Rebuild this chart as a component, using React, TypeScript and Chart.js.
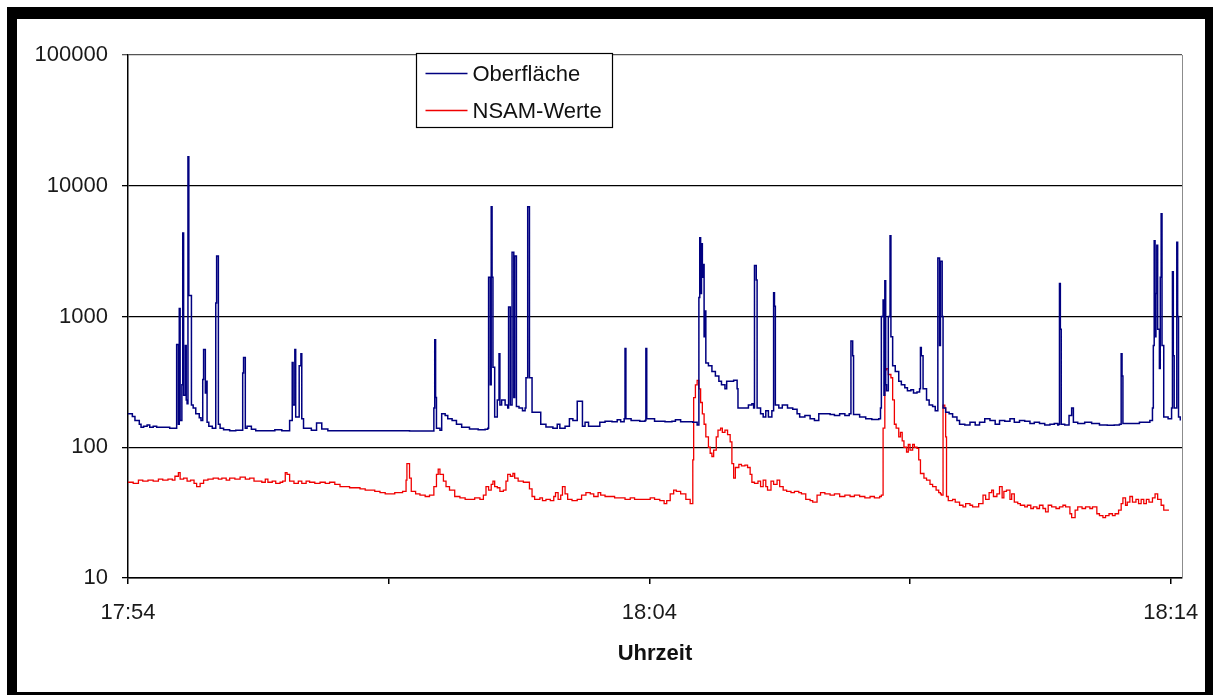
import React, { useEffect, useRef } from "react";
import { Chart, registerables } from "chart.js";

Chart.register(...registerables);

// x axis: seconds after 17:54:00
const xTickSeconds = [0, 300, 600, 900, 1200];
const xTickLabels = ["17:54", "", "18:04", "", "18:14"];
const yTickValues = [10, 100, 1000, 10000, 100000];

// [seconds after 17:54:00, value]
const oberflaeche: [number, number][] = [
  [0, 180], [5, 172], [8, 160], [13, 150], [15, 142], [18, 145], [22, 148], [25, 142], [29, 145], [33, 142],
  [40, 142], [48, 140], [55, 140], [56, 610], [58, 150], [59, 1150], [60, 160], [62, 300], [63, 4360], [64, 250],
  [66, 600], [67, 230], [68, 215], [69, 16700], [70, 1450], [71, 1450], [73, 210], [75, 200], [78, 180], [82, 168],
  [84, 160], [86, 330], [87, 560], [89, 260], [90, 320], [91, 155], [93, 145], [97, 140], [100, 140], [101, 1270],
  [102, 2900], [104, 150], [106, 140], [110, 136], [117, 134], [124, 135], [131, 135], [132, 370], [133, 485],
  [135, 140], [137, 145], [142, 137], [147, 134], [158, 134], [169, 136], [177, 134], [186, 160], [188, 160],
  [189, 445], [190, 210], [192, 560], [193, 170], [196, 170], [197, 420], [199, 520], [200, 165], [202, 140],
  [211, 135], [216, 135], [217, 153], [221, 153], [223, 138], [230, 134], [250, 134], [273, 134], [301, 134],
  [324, 133], [351, 133], [352, 200], [353, 665], [354, 240], [355, 140], [359, 135], [361, 180], [365, 175],
  [368, 165], [373, 160], [378, 150], [384, 142], [393, 138], [403, 136], [411, 137], [414, 140], [415, 2000],
  [417, 300], [418, 6900], [419, 2000], [420, 410], [422, 170], [425, 230], [427, 520], [428, 210], [430, 230],
  [434, 210], [437, 200], [438, 1180], [440, 210], [441, 210], [442, 3100], [444, 240], [445, 2900], [447, 205],
  [450, 200], [454, 190], [457, 200], [458, 340], [460, 6900], [462, 340], [465, 185], [472, 185], [475, 150],
  [481, 143], [489, 140], [494, 150], [497, 140], [503, 145], [508, 165], [512, 160], [516, 160], [517, 225],
  [522, 225], [523, 145], [526, 155], [530, 145], [536, 145], [543, 155], [549, 158], [557, 157], [563, 162],
  [567, 157], [571, 165], [572, 570], [573, 165], [579, 160], [589, 158], [595, 160], [596, 570], [597, 165],
  [606, 158], [618, 157], [626, 158], [630, 162], [636, 157], [650, 155], [655, 148], [656, 148], [657, 1400],
  [658, 4000], [659, 1500], [660, 3600], [661, 2000], [662, 2500], [663, 700], [664, 1100], [665, 440], [668, 420],
  [672, 380], [676, 350], [680, 320], [683, 300], [687, 280], [689, 320], [693, 320], [697, 325], [701, 280],
  [702, 200], [705, 200], [709, 200], [714, 210], [718, 215], [720, 200], [721, 2450], [723, 1900], [724, 200],
  [728, 180], [731, 170], [734, 190], [737, 170], [741, 190], [742, 190], [743, 1520], [744, 1200], [745, 210],
  [749, 200], [753, 210], [759, 200], [765, 195], [770, 180], [773, 170], [779, 175], [785, 165], [790, 160],
  [795, 180], [802, 180], [808, 178], [813, 175], [819, 180], [825, 175], [830, 180], [831, 180], [832, 650],
  [834, 500], [835, 178], [842, 170], [849, 165], [856, 163], [864, 165], [866, 200], [867, 1000], [869, 1340],
  [870, 250], [871, 1880], [872, 300], [873, 270], [875, 1000], [877, 4150], [878, 700], [880, 420], [883, 380],
  [887, 320], [890, 300], [894, 285], [897, 270], [901, 275], [904, 260], [908, 265], [911, 280], [912, 580],
  [913, 500], [915, 280], [919, 230], [922, 210], [926, 205], [929, 190], [931, 190], [932, 2800], [934, 600],
  [935, 2650], [937, 1000], [938, 200], [941, 185], [945, 180], [949, 170], [954, 160], [957, 150], [963, 148],
  [969, 155], [975, 148], [980, 155], [986, 165], [992, 160], [998, 150], [1003, 160], [1009, 158], [1015, 165],
  [1020, 155], [1026, 160], [1032, 158], [1038, 152], [1043, 155], [1049, 152], [1055, 148], [1061, 150],
  [1066, 152], [1070, 148], [1071, 150], [1072, 1790], [1073, 800], [1074, 150], [1078, 148], [1083, 175],
  [1086, 200], [1088, 155], [1093, 152], [1101, 155], [1109, 152], [1118, 148], [1127, 147], [1135, 148],
  [1141, 150], [1142, 150], [1143, 520], [1144, 350], [1145, 152], [1152, 152], [1164, 155], [1176, 160],
  [1178, 160], [1179, 200], [1180, 600], [1181, 3800], [1182, 700], [1183, 1500], [1184, 3500], [1185, 800],
  [1187, 400], [1188, 2000], [1189, 6100], [1190, 600], [1192, 170], [1197, 165], [1201, 200], [1202, 2200],
  [1203, 500], [1204, 200], [1206, 200], [1207, 3700], [1208, 1000], [1209, 170], [1211, 160],
];

const nsamWerte: [number, number][] = [
  [0, 54], [6, 53], [12, 56], [17, 55], [23, 56], [29, 55], [35, 57], [40, 56], [46, 57], [51, 56], [54, 60],
  [58, 64], [60, 57], [64, 58], [68, 55], [72, 56], [76, 53], [79, 50], [83, 53], [87, 56], [92, 57], [98, 58],
  [104, 57], [108, 58], [113, 56], [117, 58], [123, 57], [129, 59], [135, 57], [140, 58], [145, 55], [150, 55],
  [154, 54], [158, 57], [161, 54], [166, 55], [170, 53], [175, 54], [178, 55], [181, 64], [183, 62], [186, 55],
  [191, 53], [196, 55], [200, 53], [205, 55], [209, 54], [215, 53], [221, 54], [227, 53], [232, 54], [238, 52],
  [244, 50], [250, 50], [255, 49], [261, 49], [267, 48], [273, 47], [278, 47], [284, 46], [290, 45], [296, 44],
  [301, 44], [307, 45], [313, 45], [316, 46], [320, 56], [321, 75], [324, 58], [326, 46], [331, 44], [336, 43],
  [342, 42], [347, 43], [352, 50], [355, 62], [357, 68], [359, 62], [363, 55], [366, 50], [370, 47], [376, 42],
  [382, 41], [388, 40], [393, 40], [399, 41], [405, 40], [409, 43], [412, 50], [415, 47], [418, 52], [420, 55],
  [422, 50], [425, 49], [428, 46], [432, 47], [435, 55], [437, 62], [440, 60], [443, 63], [445, 58], [449, 55],
  [452, 55], [455, 54], [459, 54], [462, 48], [465, 42], [468, 40], [474, 41], [477, 39], [481, 40], [486, 39],
  [490, 42], [492, 45], [495, 40], [498, 43], [500, 50], [503, 44], [506, 40], [511, 39], [517, 40], [522, 43],
  [527, 45], [532, 44], [536, 42], [541, 45], [544, 43], [549, 42], [555, 42], [560, 41], [566, 41], [572, 40],
  [578, 41], [583, 40], [589, 40], [595, 40], [601, 41], [606, 40], [612, 39], [617, 37], [620, 39], [624, 44],
  [628, 47], [631, 46], [636, 44], [642, 40], [647, 37], [649, 37], [650, 80], [651, 240], [653, 300], [655, 325],
  [657, 280], [659, 220], [661, 180], [663, 150], [665, 120], [668, 100], [670, 90], [672, 85], [674, 95],
  [677, 120], [679, 135], [682, 140], [684, 130], [687, 135], [690, 125], [693, 110], [695, 75], [697, 58],
  [699, 70], [703, 74], [706, 72], [710, 73], [713, 70], [716, 62], [718, 54], [721, 53], [725, 55], [728, 50],
  [731, 56], [734, 50], [736, 47], [740, 55], [743, 52], [747, 56], [750, 50], [754, 47], [758, 46], [763, 45],
  [767, 46], [772, 45], [775, 44], [780, 40], [785, 39], [788, 38], [793, 43], [797, 45], [802, 44], [808, 43],
  [813, 44], [819, 42], [825, 43], [831, 42], [836, 43], [842, 42], [848, 41], [854, 42], [859, 41], [865, 42],
  [867, 43], [869, 140], [871, 390], [873, 400], [875, 360], [878, 340], [880, 230], [882, 150], [884, 140],
  [887, 120], [889, 130], [891, 112], [893, 100], [896, 92], [898, 105], [900, 95], [903, 105], [905, 100],
  [908, 98], [910, 80], [912, 63], [916, 58], [919, 56], [923, 52], [926, 50], [930, 47], [933, 45], [935, 44],
  [936, 43], [938, 210], [940, 200], [941, 120], [942, 42], [944, 39], [949, 40], [952, 38], [957, 36], [961, 35],
  [964, 37], [969, 36], [972, 35], [976, 35], [979, 37], [984, 43], [987, 40], [991, 45], [994, 47], [996, 42],
  [1000, 44], [1003, 50], [1006, 41], [1008, 46], [1011, 47], [1015, 40], [1017, 44], [1020, 38], [1024, 37],
  [1027, 36], [1032, 35], [1035, 36], [1039, 34], [1042, 35], [1046, 34], [1049, 36], [1053, 34], [1056, 32],
  [1059, 36], [1063, 35], [1068, 34], [1072, 35], [1076, 36], [1079, 35], [1084, 31], [1086, 29], [1090, 33],
  [1093, 35], [1098, 34], [1102, 35], [1107, 34], [1110, 35], [1115, 31], [1118, 30], [1122, 29], [1125, 30],
  [1129, 31], [1133, 30], [1136, 31], [1140, 33], [1143, 37], [1145, 41], [1148, 36], [1150, 38], [1153, 42],
  [1156, 38], [1160, 40], [1163, 37], [1166, 40], [1169, 37], [1172, 40], [1175, 38], [1179, 41], [1182, 44],
  [1185, 40], [1189, 36], [1192, 33], [1198, 33],
];

const FONT = "'Liberation Sans', Arial, sans-serif";

const toPoints = (pairs: [number, number][]) => pairs.map(([x, y]) => ({ x, y }));

const legendItems = [
  { label: "Oberfläche", color: "#000080" },
  { label: "NSAM-Werte", color: "#f00000" },
];

// Plot-area right border and the boxed legend inside the plot
const decorPlugin = {
  id: "decor",
  afterDraw(chart: any) {
    const { ctx, chartArea: a } = chart;
    ctx.save();
    ctx.strokeStyle = "#8c8c8c";
    ctx.lineWidth = 1;
    ctx.beginPath();
    ctx.moveTo(Math.round(a.right) + 0.5, a.top);
    ctx.lineTo(Math.round(a.right) + 0.5, a.bottom);
    ctx.stroke();

    const bx = Math.round(a.left + 288) + 0.5;
    const by = Math.round(a.top - 2) + 0.5;
    const bw = 196;
    const bh = 74;
    ctx.fillStyle = "#fff";
    ctx.fillRect(bx, by, bw, bh);
    ctx.strokeStyle = "#000";
    ctx.lineWidth = 1.2;
    ctx.strokeRect(bx, by, bw, bh);

    ctx.font = `22px ${FONT}`;
    ctx.textBaseline = "middle";
    ctx.textAlign = "left";
    legendItems.forEach((item, i) => {
      const y = by + 20 + i * 37;
      ctx.strokeStyle = item.color;
      ctx.lineWidth = 1.3;
      ctx.beginPath();
      ctx.moveTo(bx + 9, y);
      ctx.lineTo(bx + 51, y);
      ctx.stroke();
      ctx.fillStyle = "#111";
      ctx.fillText(item.label, bx + 56, y + 1);
    });
    ctx.restore();
  },
};

export default function App() {
  const canvasRef = useRef<HTMLCanvasElement | null>(null);

  useEffect(() => {
    if (!canvasRef.current) return;
    const chart = new Chart(canvasRef.current, {
      type: "line",
      data: {
        datasets: [
          {
            label: "Oberfläche",
            data: toPoints(oberflaeche),
            borderColor: "#000080",
            borderWidth: 1.5,
            pointRadius: 0,
            stepped: true,
          },
          {
            label: "NSAM-Werte",
            data: toPoints(nsamWerte),
            borderColor: "#f00000",
            borderWidth: 1.3,
            pointRadius: 0,
            stepped: true,
          },
        ],
      },
      options: {
        animation: false,
        responsive: false,
        devicePixelRatio: 1,
        layout: { padding: { left: 0, right: 23, top: 36, bottom: 0 } },
        plugins: { legend: { display: false }, tooltip: { enabled: false } },
        scales: {
          x: {
            type: "linear",
            min: 0,
            max: 1213,
            afterBuildTicks: (s: any) => {
              s.ticks = xTickSeconds.map((v) => ({ value: v }));
            },
            afterFit: (s: any) => {
              s.height = 114;
              s.paddingLeft = 0;
              s.paddingRight = 0;
            },
            ticks: {
              autoSkip: false,
              maxRotation: 0,
              padding: 16,
              color: "#1a1a1a",
              font: { family: FONT, size: 22 },
              callback: (_v: any, i: number) => xTickLabels[i],
            },
            grid: { drawOnChartArea: false, drawTicks: true, tickLength: 6, color: "#000", lineWidth: 1.5 },
            border: { color: "#000", width: 1.5 },
            title: {
              display: true,
              text: "Uhrzeit",
              color: "#111",
              font: { family: FONT, size: 22, weight: "bold" },
              padding: { top: 0, bottom: 25 },
            },
          },
          y: {
            type: "logarithmic",
            min: 10,
            max: 100000,
            afterBuildTicks: (s: any) => {
              s.ticks = yTickValues.map((v) => ({ value: v }));
            },
            afterFit: (s: any) => {
              s.width = 111;
            },
            ticks: {
              padding: 14,
              color: "#1a1a1a",
              font: { family: FONT, size: 22 },
              callback: (v: any) => String(v),
            },
            grid: {
              drawTicks: true,
              tickLength: 6,
              lineWidth: 1.3,
              color: (c: any) => (c.tick && c.tick.value === 100000 ? "#555" : "#000"),
            },
            border: { color: "#000", width: 1.5 },
          },
        },
      },
      plugins: [decorPlugin],
    });
    return () => chart.destroy();
  }, []);

  return (
    <div
      style={{
        position: "fixed",
        left: 0,
        top: 0,
        width: 1213,
        height: 695,
        background: "#fff",
        overflow: "hidden",
      }}
    >
      <div
        style={{
          position: "absolute",
          left: 7,
          top: 7,
          width: 1188,
          height: 673,
          borderStyle: "solid",
          borderColor: "#000",
          borderWidth: "12px 8px 3px 10px",
          background: "#fff",
        }}
      >
        <canvas ref={canvasRef} width={1188} height={673} style={{ display: "block", width: 1188, height: 673 }} />
      </div>
    </div>
  );
}
